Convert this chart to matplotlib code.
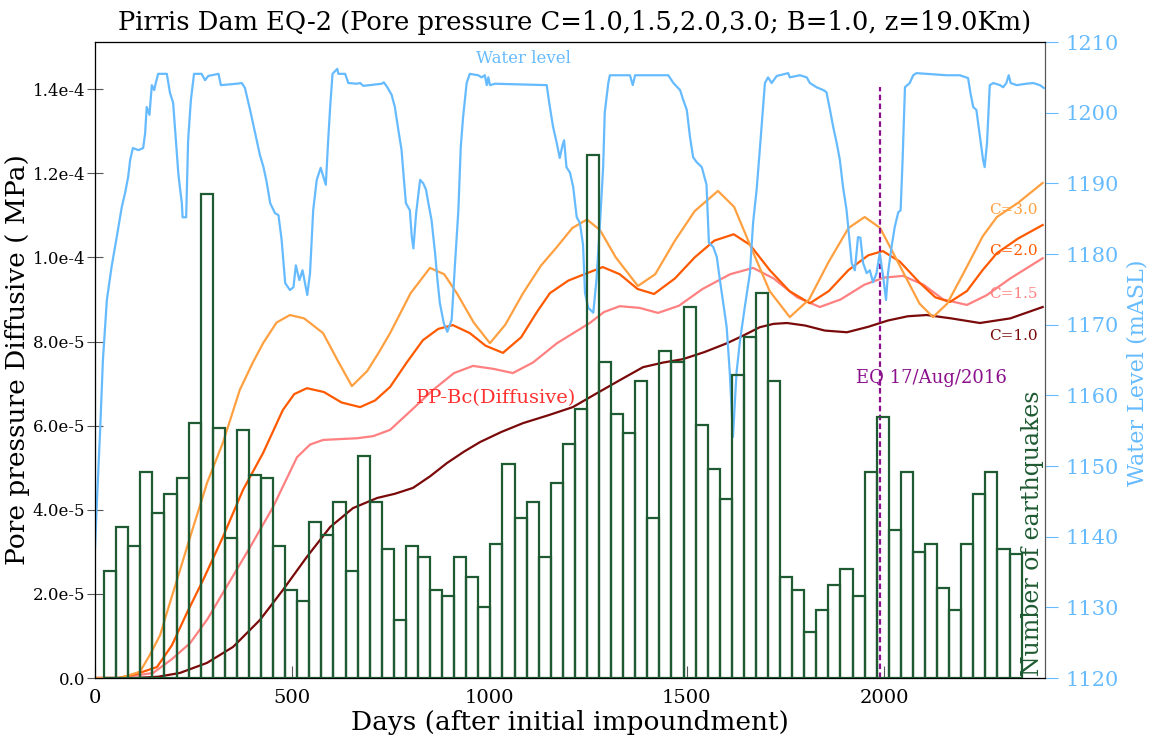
import numpy as np
import matplotlib
matplotlib.use("Agg")
import matplotlib.pyplot as plt
from matplotlib.ticker import FuncFormatter

plt.rcParams["font.family"] = ["DejaVu Serif"]

# pore pressure curves, (day, pressure in 1e-5 MPa)
pp_c10 = [(0, 0), (100, 0), (160, 0.03), (215, 0.12), (284, 0.36), (350, 0.74), (418, 1.38),
          (476, 2.09), (537, 2.88), (596, 3.59), (654, 4.04), (715, 4.28), (760, 4.38),
          (806, 4.52), (850, 4.8), (892, 5.11), (935, 5.38), (976, 5.61), (1030, 5.85),
          (1085, 6.06), (1150, 6.25), (1211, 6.44), (1272, 6.77), (1330, 7.08), (1389, 7.39),
          (1440, 7.5), (1490, 7.58), (1545, 7.75), (1602, 7.96), (1645, 8.15), (1685, 8.34),
          (1720, 8.42), (1754, 8.44), (1800, 8.38), (1850, 8.26), (1906, 8.22), (1960, 8.35),
          (2010, 8.5), (2060, 8.6), (2108, 8.63), (2170, 8.55), (2243, 8.44), (2320, 8.55),
          (2402, 8.82)]
pp_c15 = [(0, 0), (60, 0), (147, 0.12), (195, 0.45), (241, 0.83), (285, 1.4), (324, 2.02),
          (393, 3.11), (451, 4.06), (512, 5.25), (545, 5.55), (578, 5.66), (620, 5.68),
          (664, 5.70), (705, 5.75), (748, 5.90), (800, 6.35), (857, 6.85), (910, 7.25),
          (958, 7.42), (1010, 7.35), (1059, 7.25), (1110, 7.5), (1171, 7.96), (1254, 8.44),
          (1290, 8.7), (1330, 8.84), (1380, 8.8), (1427, 8.68), (1480, 8.85), (1540, 9.25),
          (1610, 9.6), (1668, 9.75), (1720, 9.5), (1780, 9.05), (1837, 8.82), (1890, 9.0),
          (1950, 9.35), (2000, 9.52), (2048, 9.56), (2100, 9.35), (2150, 9.0), (2210, 8.87),
          (2260, 9.1), (2320, 9.5), (2402, 9.98)]
pp_c20 = [(0, 0), (60, 0), (106, 0.1), (157, 0.26), (195, 0.78), (233, 1.55), (274, 2.33),
          (324, 3.35), (375, 4.47), (426, 5.35), (476, 6.37), (505, 6.75), (537, 6.89),
          (580, 6.8), (625, 6.55), (672, 6.44), (710, 6.6), (748, 6.92), (790, 7.5), (831, 8.03),
          (870, 8.3), (907, 8.39), (950, 8.2), (990, 7.9), (1034, 7.73), (1080, 8.1),
          (1120, 8.7), (1153, 9.15), (1200, 9.45), (1254, 9.65), (1287, 9.77), (1330, 9.6),
          (1375, 9.25), (1417, 9.13), (1470, 9.5), (1520, 10.0), (1570, 10.4), (1619, 10.55),
          (1660, 10.3), (1710, 9.7), (1760, 9.2), (1812, 8.91), (1860, 9.2), (1910, 9.7),
          (1960, 10.05), (1997, 10.15), (2040, 9.9), (2090, 9.4), (2130, 9.05), (2167, 8.94),
          (2210, 9.2), (2250, 9.7), (2286, 10.10), (2340, 10.45), (2402, 10.77)]
pp_c30 = [(0, 0), (60, 0), (81, 0.05), (114, 0.15), (139, 0.55), (165, 1.02), (182, 1.55),
          (210, 2.4), (241, 3.35), (284, 4.64), (324, 5.59), (367, 6.85), (400, 7.5),
          (426, 7.96), (460, 8.45), (494, 8.63), (530, 8.55), (578, 8.20), (615, 7.55),
          (651, 6.94), (690, 7.3), (720, 7.75), (748, 8.20), (800, 9.15), (849, 9.75),
          (885, 9.6), (917, 9.15), (960, 8.45), (1001, 7.96), (1040, 8.4), (1085, 9.15),
          (1130, 9.8), (1171, 10.25), (1210, 10.7), (1247, 10.9), (1280, 10.65), (1320, 10.0),
          (1376, 9.32), (1420, 9.6), (1470, 10.4), (1520, 11.1), (1579, 11.58), (1620, 11.2),
          (1660, 10.3), (1710, 9.2), (1761, 8.58), (1810, 9.0), (1860, 9.9), (1910, 10.7),
          (1951, 10.96), (1990, 10.7), (2040, 9.8), (2090, 8.9), (2124, 8.58), (2160, 8.9),
          (2200, 9.6), (2250, 10.5), (2286, 10.96), (2340, 11.3), (2402, 11.77)]

# reservoir water level (day, m a.s.l.)
water_level = [
    (0, 1138.4), (5, 1145.2), (13, 1155.1), (20, 1165.0), (30, 1173.5), (42, 1178.2), (55, 1182.4),
    (68, 1186.7), (76, 1188.6), (84, 1190.9), (89, 1193.3), (96, 1195.0), (110, 1194.7),
    (122, 1195.0), (127, 1197.1), (131, 1200.8), (138, 1199.7), (144, 1203.9), (150, 1203.2),
    (154, 1204.2), (160, 1205.5), (182, 1205.5), (190, 1202.8), (198, 1201.4), (205, 1196.1),
    (211, 1191.5), (215, 1189.5), (220, 1187.2), (222, 1185.2), (231, 1185.2), (236, 1196.1),
    (243, 1201.8), (251, 1205.5), (270, 1205.5), (279, 1204.6), (287, 1205.2), (313, 1205.5),
    (319, 1203.9), (359, 1204.1), (372, 1204.2), (380, 1203.5), (393, 1200.4), (406, 1197.1),
    (418, 1194.0), (427, 1192.3), (435, 1190.2), (444, 1187.2), (456, 1185.8), (465, 1185.5),
    (473, 1182.0), (482, 1175.9), (494, 1174.9), (503, 1175.3), (509, 1178.4), (518, 1176.3),
    (526, 1177.7), (538, 1174.2), (545, 1177.3), (553, 1186.2), (562, 1190.5), (572, 1192.2),
    (579, 1190.9), (585, 1189.8), (591, 1196.1), (596, 1200.8), (602, 1205.5), (614, 1206.2),
    (617, 1205.5), (634, 1205.5), (642, 1204.2), (663, 1204.1), (672, 1204.2), (680, 1203.8),
    (727, 1204.1), (732, 1204.3), (741, 1203.6), (752, 1202.5), (760, 1200.8), (769, 1197.5),
    (777, 1194.7), (783, 1190.5), (788, 1187.2), (798, 1186.2), (803, 1182.4), (807, 1180.8),
    (814, 1185.8), (824, 1190.5), (832, 1190.0), (839, 1189.1), (845, 1187.2), (853, 1184.8),
    (862, 1180.1), (868, 1176.3), (874, 1173.1), (884, 1170.2), (893, 1169.0), (904, 1170.7),
    (912, 1178.2), (921, 1186.2), (927, 1195.1), (933, 1199.4), (942, 1204.2), (950, 1205.5),
    (971, 1205.3), (980, 1205.0), (988, 1205.3), (993, 1203.9), (997, 1205.0), (1001, 1203.9),
    (1014, 1204.1), (1145, 1203.9), (1151, 1201.5), (1161, 1198.0), (1170, 1195.8),
    (1178, 1193.6), (1185, 1195.4), (1189, 1196.1), (1195, 1192.3), (1204, 1191.5),
    (1212, 1189.5), (1221, 1185.2), (1229, 1184.4), (1237, 1181.3), (1242, 1174.5),
    (1250, 1172.4), (1263, 1171.7), (1271, 1176.3), (1280, 1184.4), (1288, 1192.3),
    (1292, 1200.0), (1301, 1204.2), (1305, 1205.3), (1356, 1205.3), (1363, 1203.9),
    (1369, 1205.3), (1453, 1205.3), (1466, 1204.2), (1483, 1203.2), (1491, 1201.8),
    (1500, 1200.4), (1508, 1196.6), (1516, 1193.7), (1525, 1193.0), (1538, 1192.3),
    (1550, 1189.8), (1556, 1181.6), (1567, 1181.0), (1576, 1179.6), (1584, 1176.3),
    (1601, 1169.7), (1609, 1163.2), (1617, 1154.1), (1626, 1163.2), (1635, 1167.8),
    (1647, 1172.5), (1660, 1177.3), (1668, 1184.4), (1677, 1189.1), (1685, 1194.7),
    (1698, 1204.2), (1706, 1205.0), (1715, 1204.2), (1728, 1205.2), (1757, 1205.6),
    (1761, 1205.0), (1787, 1205.3), (1804, 1205.0), (1812, 1204.2), (1829, 1203.6),
    (1846, 1203.2), (1854, 1202.9), (1863, 1200.4), (1871, 1198.0), (1880, 1195.7),
    (1888, 1193.3), (1896, 1189.5), (1905, 1186.2), (1913, 1181.6), (1918, 1178.7),
    (1926, 1177.7), (1934, 1182.4), (1940, 1182.3), (1947, 1178.7), (1956, 1177.3),
    (1964, 1177.7), (1972, 1176.0), (1981, 1177.3), (1989, 1180.1), (1998, 1176.7),
    (2005, 1173.5), (2010, 1177.3), (2019, 1181.0), (2027, 1183.8), (2036, 1185.9),
    (2042, 1186.2), (2047, 1193.3), (2053, 1203.6), (2065, 1204.2), (2074, 1205.3),
    (2082, 1205.6), (2158, 1205.3), (2192, 1205.3), (2213, 1204.9), (2219, 1202.8),
    (2226, 1200.8), (2234, 1200.4), (2243, 1196.6), (2251, 1193.3), (2255, 1192.3),
    (2261, 1195.7), (2268, 1203.9), (2277, 1204.2), (2294, 1203.9), (2302, 1203.6),
    (2310, 1204.2), (2316, 1205.3), (2321, 1204.2), (2336, 1203.9), (2361, 1204.1),
    (2378, 1204.2), (2395, 1203.9), (2405, 1203.5)]

# earthquakes per ~monthly bin (relative scale, axis 0-100)
eq_first_day = 23
eq_bin_days = 30.6
eq_counts = [16.8, 23.7, 20.8, 32.4, 25.9, 28.9, 31.4, 40.1, 76.1, 39.3,
             22.0, 39.0, 31.9, 31.4, 20.8, 13.8, 12.1, 24.5, 22.5, 27.7,
             16.8, 34.9, 27.7, 20.3, 9.1, 20.8, 19.0, 13.8, 12.9, 19.0,
             15.9, 11.2, 21.1, 33.6, 25.2, 27.7, 19.0, 30.7, 36.8, 42.3,
             82.2, 49.7, 41.5, 38.5, 46.7, 25.2, 51.4, 49.7, 58.3, 39.8,
             32.9, 28.1, 47.6, 53.6, 60.5, 46.7, 15.9, 13.8, 7.2, 10.7,
             14.6, 17.1, 12.9, 32.4, 41.0, 23.3, 32.4, 19.8, 21.1, 14.2,
             10.7, 21.1, 28.9, 32.4, 20.3, 19.5]

eq_day = 1989          # 17 Aug 2016
eq_line_top = 1.405e-4

wl_color = "#66bbff"
eq_color = "#1e5a32"
spine_color = "#555555"
curves = [(pp_c10, "#7a0a0a", "C=1.0", 8.13), (pp_c15, "#ff8080", "C=1.5", 9.13),
          (pp_c20, "#ff5a00", "C=2.0", 10.15), (pp_c30, "#ffa040", "C=3.0", 11.12)]

fig = plt.figure(figsize=(11.49, 7.44), dpi=100)
ax = fig.add_axes([0.0827, 0.0887, 0.8268, 0.8548])
ax_wl = ax.twinx()
ax_eq = ax.twinx()

for data, color, name, lab_y in curves:
    d, v = zip(*data)
    ax.plot(d, np.array(v) * 1e-5, color=color, lw=1.6)

ax.plot([eq_day, eq_day], [0, eq_line_top], color="#8b108b", lw=1.6, ls=(0, (2.5, 1.5)))

ax.set_xlim(0, 2408)
ax.set_ylim(0, 1.512e-4)
ax.set_xticks([0, 500, 1000, 1500, 2000])
ax.set_yticks(np.arange(0, 1.41e-4, 2e-5))


def sci(v, pos):
    if abs(v) < 1e-12:
        return "0.0"
    e = int(np.floor(np.log10(abs(v))))
    return f"{v / 10 ** e:.1f}e{e}"


ax.yaxis.set_major_formatter(FuncFormatter(sci))
ax.tick_params(axis="x", direction="in", length=9, labelsize=14, color=spine_color, pad=8)
ax.tick_params(axis="y", direction="inout", length=12, labelsize=12, color=spine_color, pad=1)
ax.set_xlabel("Days (after initial impoundment)", fontsize=19, labelpad=2)
ax.set_ylabel("Pore pressure Diffusive ( MPa)", fontsize=19)
ax.yaxis.set_label_coords(-0.068, 0.5)
for s in ax.spines.values():
    s.set_color(spine_color)

wd, wv = zip(*water_level)
ax_wl.plot(wd, wv, color=wl_color, lw=1.6)
ax_wl.set_ylim(1120, 1210)
ax_wl.set_yticks(range(1120, 1211, 10))
ax_wl.tick_params(axis="y", direction="out", length=9, labelsize=15, colors=wl_color, pad=6)
ax_wl.set_ylabel("Water Level (mASL)", fontsize=16, color=wl_color)
ax_wl.yaxis.set_label_coords(1.086, 0.48)
ax_wl.spines["right"].set_color(spine_color)

edges = eq_first_day + eq_bin_days * np.arange(len(eq_counts))
ax_eq.bar(edges, eq_counts, width=eq_bin_days, align="edge", fill=False,
          edgecolor=eq_color, lw=1.6)
ax_eq.set_ylim(0, 100)
ax_eq.set_yticks([])
ax_eq.spines["right"].set_visible(False)

ax.text(1085, 1.473e-4, "Water level", color=wl_color, fontsize=12, ha="center", va="center")
ax.text(1016, 6.66e-5, "PP-Bc(Diffusive)", color="#ff3030", fontsize=14, ha="center", va="center")
for data, color, name, lab_y in curves:
    ax.text(2390, lab_y * 1e-5, name, color=color, fontsize=11, ha="right", va="center")
ax.text(2121, 7.13e-5, "EQ 17/Aug/2016", color="#8b108b", fontsize=13, ha="center", va="center")
ax.text(2376, 0.05e-5, "Number of earthquakes", color=eq_color, fontsize=17, rotation=90,
        ha="center", va="bottom")

fig.suptitle("Pirris Dam EQ-2 (Pore pressure C=1.0,1.5,2.0,3.0; B=1.0, z=19.0Km)",
             fontsize=18.5, y=0.987)

fig.savefig("out.png", dpi=100)
